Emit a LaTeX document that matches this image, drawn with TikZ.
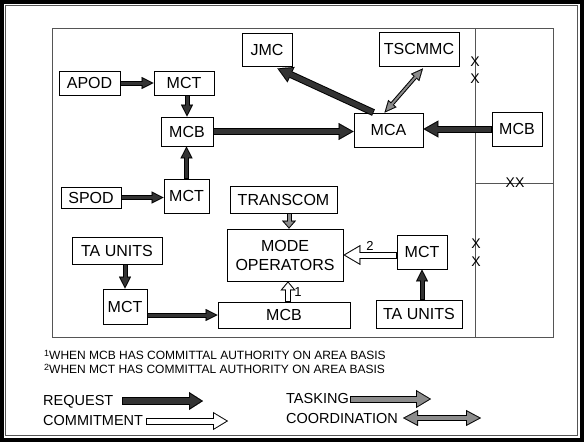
\documentclass[tikz,border=0pt]{standalone}
\usepackage{fontspec}
\setmainfont{Liberation Sans}
\usetikzlibrary{arrows.meta}

\definecolor{reqgray}{HTML}{333333}
\definecolor{taskgray}{HTML}{8C8C8C}
\definecolor{framegray}{HTML}{555555}

\tikzset{
  box/.style={draw, line width=0.8pt, inner sep=0pt, align=center, font=\fontsize{16}{19}\selectfont},
  key/.style={inner sep=0pt, anchor=west, font=\fontsize{14.5}{16}\selectfont},
  note/.style={inner sep=0pt, anchor=west, font=\fontsize{12}{14}\selectfont},
  xmark/.style={inner sep=0pt, font=\fontsize{14}{14}\selectfont},
  % block arrow: fill, shaft, head length, head width, inner shaft, inner length, inner width, inset
  blk/.style n args={8}{draw=black, line width=#2,
    -{Triangle[length=#3, width=#4, line width=0.1pt]},
    postaction={draw=#1, line width=#5, -{Triangle[length=#6, width=#7, line width=0.1pt]},
      shorten >=#8, shorten <=0.8pt}},
  req/.style={blk={reqgray}{5pt}{12pt}{12pt}{3pt}{8.8pt}{8.8pt}{2.2pt}},
  reqbig/.style={blk={reqgray}{7pt}{15pt}{17pt}{5pt}{12pt}{13.6pt}{2pt}},
  reqkey/.style={blk={reqgray}{8pt}{14pt}{18pt}{6pt}{11.2pt}{14.3pt}{1.9pt}},
  commitone/.style={blk={white}{6pt}{9pt}{15pt}{4pt}{6.4pt}{10.7pt}{1.6pt}},
  committwo/.style={blk={white}{7pt}{17pt}{20pt}{5pt}{14pt}{16.5pt}{2pt}},
  commitkey/.style={blk={white}{7pt}{15pt}{18pt}{5pt}{12pt}{14.5pt}{1.9pt}},
  task/.style={blk={taskgray}{5pt}{8pt}{14pt}{3pt}{5.5pt}{9.6pt}{1.5pt}},
  taskkey/.style={blk={taskgray}{7pt}{15pt}{18pt}{5pt}{12pt}{14.5pt}{1.9pt}},
  % double headed
  dblk/.style n args={8}{draw=black, line width=#2,
    {Triangle[length=#3, width=#4, line width=0.1pt]}-{Triangle[length=#3, width=#4, line width=0.1pt]},
    postaction={draw=#1, line width=#5,
      {Triangle[length=#6, width=#7, line width=0.1pt]}-{Triangle[length=#6, width=#7, line width=0.1pt]},
      shorten >=#8, shorten <=#8}},
  coord/.style={dblk={taskgray}{4pt}{12pt}{11pt}{2pt}{8.6pt}{7.9pt}{2.4pt}},
  coordkey/.style={dblk={taskgray}{6pt}{15pt}{16pt}{4pt}{11.9pt}{12.7pt}{2.1pt}},
}

\begin{document}
\begin{tikzpicture}[x=1pt, y=-1pt]
  \useasboundingbox (0,0) rectangle (584,442);
  % frame
  \draw[line width=4pt] (2,2) rectangle (582,440);
  \draw[framegray, line width=0.8pt] (5.5,5.5) rectangle (577.5,435.5);
  \draw[framegray, line width=1pt] (52,28) rectangle (553,337);
  \draw[framegray, line width=1pt] (475,28) -- (475,337);
  \draw[framegray, line width=1pt] (475,183) -- (553,183);

  % boxes
  \node[box, minimum width=50pt, minimum height=33pt] (jmc) at (267,49.5) {JMC};
  \node[box, minimum width=80pt, minimum height=34pt] (tsc) at (419,49) {TSCMMC};
  \node[box, minimum width=61pt, minimum height=24pt] (apod) at (89.5,83) {APOD};
  \node[box, minimum width=60pt, minimum height=24pt] (mct1) at (184,83) {MCT};
  \node[box, minimum width=52pt, minimum height=29pt] (mcb1) at (187,131.5) {MCB};
  \node[box, minimum width=69pt, minimum height=34pt] (mca) at (388.5,130) {MCA};
  \node[box, minimum width=50pt, minimum height=34pt] (mcb2) at (517,129) {MCB};
  \node[box, minimum width=60pt, minimum height=21pt] (spod) at (91,197.5) {SPOD};
  \node[box, minimum width=45pt, minimum height=34pt] (mct2) at (186.5,196) {MCT};
  \node[box, minimum width=107pt, minimum height=27pt] (trans) at (283.5,199.5) {TRANSCOM};
  \node[box, minimum width=116pt, minimum height=52pt] (mode) at (285,255) {MODE\\OPERATORS};
  \node[box, minimum width=132pt, minimum height=26pt] (mcb3) at (284,315) {MCB};
  \node[box, minimum width=90pt, minimum height=27pt] (ta1) at (117,250.5) {TA UNITS};
  \node[box, minimum width=44pt, minimum height=35pt] (mct3) at (125,306.5) {MCT};
  \node[box, minimum width=50pt, minimum height=34pt] (mct4) at (422,252) {MCT};
  \node[box, minimum width=86pt, minimum height=28pt] (ta2) at (419,314) {TA UNITS};

  % boundary marks
  \node[xmark] (x1) at (475,62) {X};
  \node[xmark] (x2) at (475,79) {X};
  \node[xmark] (x3) at (515,183) {XX};
  \node[xmark] (x4) at (476,244) {X};
  \node[xmark] (x5) at (476,262) {X};

  % requests
  \draw[req] (apod) -- (mct1);
  \draw[req] (mct1.south -| mcb1.north) -- (mcb1.north);
  \draw[req] (mct2.north) -- (mct2.north |- mcb1.south);
  \draw[req] (spod.east) -- (spod.east -| mct2.west);
  \draw[reqbig] (mcb1.east) -- (mcb1.east -| mca.west);
  \draw[reqbig] ([xshift=-15pt]mca.north) -- ([xshift=-15pt,yshift=-2pt]jmc.south east);
  \draw[reqbig] (mcb2.west) -- (mcb2.west -| mca.east);
  \draw[req] (ta1.south -| mct3.north) -- (mct3.north);
  \draw[req] (mct3.east |- mcb3.west) -- (mcb3.west);
  \draw[req] (ta2.north -| mct4.south) -- (mct4.south);

  % tasking and coordination
  \draw[task] ([xshift=4pt]mode.north |- trans.south) -- ([xshift=4pt]mode.north);
  \draw[coord] ([xshift=4pt,yshift=-2pt]tsc.south) -- ([xshift=-4pt]mca.north);

  % commitments
  \draw[commitone] ([xshift=4pt]mcb3.north) -- ([xshift=4pt]mcb3.north |- mode.south);
  \draw[committwo] ([yshift=-3pt]mct4.west) -- ([yshift=-3pt]mct4.west -| mode.east);
  \node[note, anchor=center, font=\fontsize{13}{13}\selectfont] (lab1) at (298,292) {1};
  \node[note, anchor=center, font=\fontsize{13}{13}\selectfont] (lab2) at (370,246) {2};

  % footnotes
  \node[note] (fn1) at (44,355) {\raisebox{3pt}{\fontsize{9}{9}\selectfont 1}WHEN MCB HAS COMMITTAL AUTHORITY ON AREA BASIS};
  \node[note] (fn2) at (44,369) {\raisebox{3pt}{\fontsize{9}{9}\selectfont 2}WHEN MCT HAS COMMITTAL AUTHORITY ON AREA BASIS};

  % legend
  \node[key] (reqtxt) at (43,402) {REQUEST};
  \node[key] (comtxt) at (43,421) {COMMITMENT};
  \node[key] (tasktxt) at (286,399) {TASKING};
  \node[key] (coordtxt) at (286,419) {COORDINATION};
  \coordinate (reqa) at (122,401);
  \coordinate (reqb) at (203,401);
  \coordinate (coma) at (146,421);
  \coordinate (comb) at (228,421);
  \coordinate (taska) at (350,399);
  \coordinate (taskb) at (431,399);
  \coordinate (coorda) at (403,418);
  \coordinate (coordb) at (481,418);
  \draw[reqkey] (reqa) -- (reqb);
  \draw[commitkey] (coma) -- (comb);
  \draw[taskkey] (taska) -- (taskb);
  \draw[coordkey] (coorda) -- (coordb);
\end{tikzpicture}
\end{document}
